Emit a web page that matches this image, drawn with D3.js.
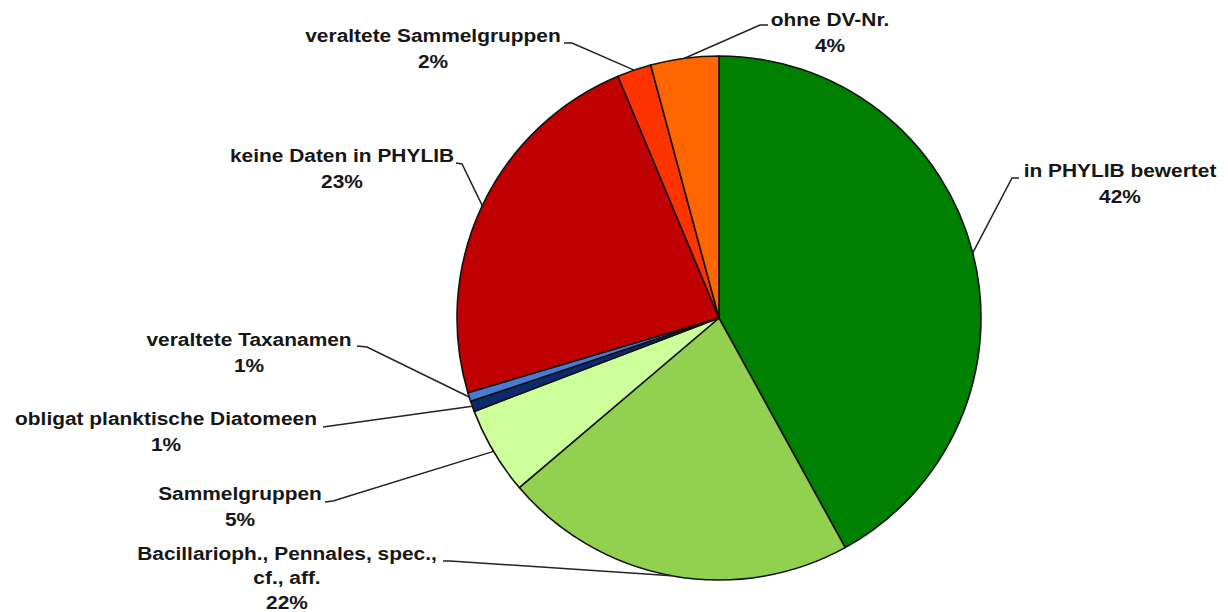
<!DOCTYPE html>
<html>
<head>
<meta charset="utf-8">
<script src="https://cdn.jsdelivr.net/npm/d3@7"></script>
<style>
  html, body { margin: 0; padding: 0; background: #ffffff; }
  svg { display: block; }
  .lbl { font-family: "Liberation Sans", Arial, sans-serif; font-weight: bold; font-size: 19px; fill: #161616; }
</style>
</head>
<body>
<div id="chart"></div>
<script>
// Categories (clockwise from 12 o'clock), their shares in percent and slice colours
const categories = [
  "in PHYLIB bewertet",
  "Bacillarioph., Pennales, spec.,|cf., aff.",
  "Sammelgruppen",
  "obligat planktische Diatomeen",
  "veraltete Taxanamen",
  "keine Daten in PHYLIB",
  "veraltete Sammelgruppen",
  "ohne DV-Nr."
];
const shares = [42.0, 21.8, 5.4, 0.65, 0.55, 23.3, 2.1, 4.2];
const colors = ["#008000", "#92D050", "#CCFF99", "#0B2A6B", "#4A7AD2", "#C00000", "#FF3300", "#FF6600"];

// Label placement: block centre x, first baseline y, line gap and the leader-line elbow points
const labelLayout = [
  { cx: 1120, y: 177, gap: 26, path: [[1019, 178], [1012, 178]] },
  { cx: 287, y: 560, gap: 24.5, path: [[443, 561], [450, 561]] },
  { cx: 240, y: 500, gap: 26, path: [[325, 502], [333, 501]] },
  { cx: 166, y: 425, gap: 26, path: [[323, 427]] },
  { cx: 249, y: 346, gap: 26, path: [[357, 346], [367, 347]] },
  { cx: 342, y: 162, gap: 26, path: [[456, 163], [462, 164]] },
  { cx: 433, y: 42,  gap: 26, path: [[564, 43], [572, 43]] },
  { cx: 830, y: 26,  gap: 26, path: [[768, 25], [760, 25]] }
];

const W = 1228, H = 612;
const cx = 719, cy = 318, R = 262;

const svg = d3.select("#chart").append("svg")
  .attr("width", W).attr("height", H);

const data = categories.map((c, i) => ({ name: c, value: shares[i], color: colors[i], layout: labelLayout[i] }));

const pie = d3.pie().sort(null).value(d => d.value).startAngle(0).endAngle(2 * Math.PI);
const arcs = pie(data);

const arc = d3.arc().innerRadius(0).outerRadius(R);
const edgeArc = d3.arc().innerRadius(R).outerRadius(R);

const g = svg.append("g").attr("transform", `translate(${cx},${cy})`);

g.selectAll("path.slice")
  .data(arcs)
  .join("path")
  .attr("class", "slice")
  .attr("d", arc)
  .attr("fill", d => d.data.color)
  .attr("stroke", "#111")
  .attr("stroke-width", 1.6)
  .attr("stroke-linejoin", "round");

// Leader lines: from the label elbow to the slice's mid-angle point on the rim
const line = d3.line();
svg.selectAll("path.leader")
  .data(arcs)
  .join("path")
  .attr("class", "leader")
  .attr("d", d => {
    const [ex, ey] = edgeArc.centroid(d);
    const pts = d.data.layout.path.concat([[cx + ex, cy + ey]]);
    return line(pts);
  })
  .attr("fill", "none")
  .attr("stroke", "#222")
  .attr("stroke-width", 1.5);

// Labels: name (possibly over two lines) and rounded percentage
const labels = svg.selectAll("g.label")
  .data(arcs)
  .join("g")
  .attr("class", "label")
  .attr("transform", d => `translate(${d.data.layout.cx},${d.data.layout.y}) scale(1.1,1)`);

labels.each(function(d) {
  const lines = d.data.name.split("|").concat([Math.round(d.data.value) + "%"]);
  d3.select(this).selectAll("text")
    .data(lines)
    .join("text")
    .attr("class", "lbl")
    .attr("text-anchor", "middle")
    .attr("x", 0)
    .attr("y", (t, i) => i * d.data.layout.gap)
    .text(t => t);
});
</script>
</body>
</html>
